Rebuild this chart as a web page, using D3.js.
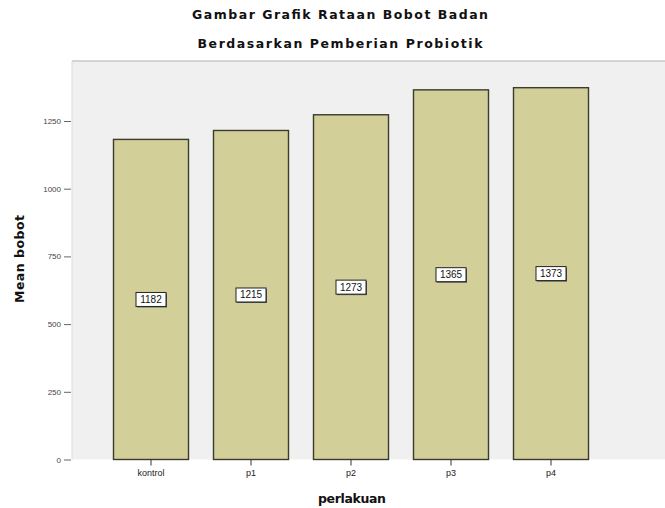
<!DOCTYPE html>
<html>
<head>
<meta charset="utf-8">
<script src="https://cdn.jsdelivr.net/npm/d3@7/dist/d3.min.js"></script>
<style>
  html, body { margin: 0; padding: 0; background: #fff; }
  svg { display: block; font-family: "Liberation Sans", Arial, sans-serif; }
</style>
</head>
<body>
<svg id="chart" width="665" height="508"></svg>
<script>
// Mean body weight per treatment group
const categories = ["kontrol", "p1", "p2", "p3", "p4"];
const meanValues = [1182, 1215, 1273, 1365, 1373];
const valueLabels = ["1182", "1215", "1273", "1365", "1373"];
const yTicks = [0, 250, 500, 750, 1000, 1250];
const titleLines = ["Gambar Grafik Rataan Bobot Badan", "Berdasarkan Pemberian Probiotik"];
const titleWidths = [296, 285];

const svg = d3.select("#chart");
const plot = { left: 72, right: 665, top: 61, bottom: 459.5 };
const headFont = "'DejaVu Sans', Verdana, sans-serif";

const x = d3.scaleBand()
  .domain(categories)
  .range([101, 601])
  .paddingInner(0.25)
  .paddingOuter(0.125);

const y = d3.scaleLinear()
  .domain([0, 1470])
  .range([plot.bottom, plot.bottom - 1470 * (338.5 / 1250)]);

const defs = svg.append("defs");
const soft = defs.append("filter").attr("id", "soft").attr("x", "-10%").attr("y", "-10%").attr("width", "120%").attr("height", "120%");
soft.append("feGaussianBlur").attr("stdDeviation", 0.5);

// plot background
svg.append("rect")
  .attr("x", plot.left).attr("y", plot.top)
  .attr("width", plot.right - plot.left).attr("height", plot.bottom - plot.top)
  .attr("fill", "#f0f0f0");
svg.append("line")
  .attr("x1", plot.left).attr("x2", plot.right)
  .attr("y1", plot.top).attr("y2", plot.top)
  .attr("stroke", "#c8c8c8").attr("stroke-width", 1.5);
svg.append("line")
  .attr("x1", plot.left).attr("x2", plot.left)
  .attr("y1", plot.top).attr("y2", plot.bottom)
  .attr("stroke", "#dcdcdc").attr("stroke-width", 1);

// titles
svg.selectAll("text.title")
  .data(titleLines)
  .join("text")
  .attr("class", "title")
  .attr("x", (d, i) => 340 - titleWidths[i] / 2)
  .attr("y", (d, i) => 19 + i * 29)
  .attr("font-family", headFont)
  .attr("font-size", 12.5)
  .attr("font-weight", "bold")
  .attr("textLength", (d, i) => titleWidths[i])
  .attr("lengthAdjust", "spacing")
  .attr("fill", "#111")
  .text(d => d);

// bars
const bars = svg.append("g").selectAll("g.bar")
  .data(categories.map((c, i) => ({ c, v: meanValues[i], label: valueLabels[i] })))
  .join("g").attr("class", "bar");

bars.append("rect")
  .attr("x", d => x(d.c))
  .attr("y", d => y(d.v))
  .attr("width", x.bandwidth())
  .attr("height", d => y(0) - y(d.v))
  .attr("fill", "#d3cf98")
  .attr("stroke", "#3a3a2e")
  .attr("stroke-width", 1.4)
  .attr("filter", "url(#soft)");

// value labels at the middle of each bar
const lblW = 30, lblH = 14;
bars.append("rect")
  .attr("x", d => x(d.c) + x.bandwidth() / 2 - lblW / 2 + 1)
  .attr("y", d => y(d.v / 2) - lblH / 2 + 1)
  .attr("width", lblW).attr("height", lblH)
  .attr("fill", "#555").attr("filter", "url(#soft)");
bars.append("rect")
  .attr("x", d => x(d.c) + x.bandwidth() / 2 - lblW / 2)
  .attr("y", d => y(d.v / 2) - lblH / 2)
  .attr("width", lblW).attr("height", lblH)
  .attr("fill", "#fff").attr("stroke", "#222").attr("stroke-width", 1);
bars.append("text")
  .attr("x", d => x(d.c) + x.bandwidth() / 2)
  .attr("y", d => y(d.v / 2) + 3.5)
  .attr("text-anchor", "middle")
  .attr("font-size", 10)
  .attr("fill", "#111")
  .text(d => d.label);

// y axis
const yAxis = d3.axisLeft(y).tickValues(yTicks).tickSize(7).tickPadding(3).tickFormat(d3.format("d"));
const gy = svg.append("g").attr("transform", `translate(${plot.left - 1},0)`).call(yAxis);
gy.select(".domain").remove();
gy.selectAll(".tick line").attr("stroke", "#666");
gy.selectAll(".tick text").attr("font-size", 8).attr("fill", "#444").attr("font-family", "Liberation Sans, Arial, sans-serif");

// x axis
const xAxis = d3.axisBottom(x).tickSize(6).tickPadding(4);
const gx = svg.append("g").attr("transform", `translate(0,${plot.bottom})`).call(xAxis);
gx.select(".domain").remove();
gx.selectAll(".tick line").attr("stroke", "#333");
gx.selectAll(".tick text").attr("font-size", 9).attr("fill", "#222").attr("font-family", "Liberation Sans, Arial, sans-serif");

// axis titles
svg.append("text")
  .attr("x", 318).attr("y", 503)
  .attr("font-family", headFont)
  .attr("font-size", 12.5).attr("font-weight", "bold").attr("fill", "#111")
  .attr("textLength", 68).attr("lengthAdjust", "spacing")
  .text("perlakuan");
svg.append("text")
  .attr("transform", "translate(24,303) rotate(-90)")
  .attr("font-family", headFont)
  .attr("font-size", 12.5).attr("font-weight", "bold").attr("fill", "#111")
  .attr("textLength", 88).attr("lengthAdjust", "spacing")
  .text("Mean bobot");
</script>
</body>
</html>
